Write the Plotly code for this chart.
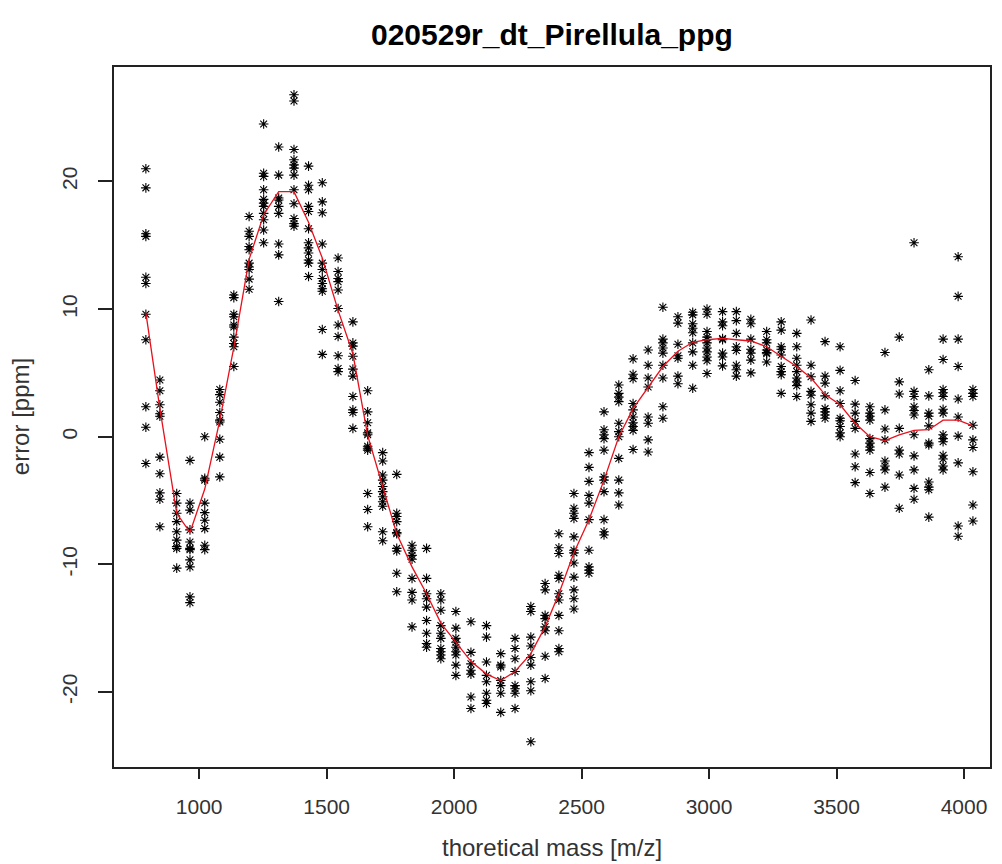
import plotly.graph_objects as go

# ---- data ----
column_mass = [791, 846, 912, 964, 1022, 1081, 1136, 1196, 1253, 1312, 1372, 1429, 1483, 1545,
               1603, 1661, 1720, 1775, 1835, 1892, 1948, 2007, 2066, 2127, 2183, 2239, 2301,
               2357, 2411, 2470, 2529, 2588, 2646, 2702, 2761, 2819, 2878, 2936, 2992, 3053,
               3107, 3164, 3226, 3283, 3344, 3400, 3455, 3514, 3573, 3631, 3690, 3746, 3804,
               3862, 3918, 3977, 4035]

column_errors = [
    [21.0, 19.5, 15.9, 15.7, 12.5, 12.0, 9.6, 7.6, 2.35, 0.74, -2.1],
    [4.45, 3.6, 2.5, 1.8, 1.6, -1.6, -2.9, -4.4, -4.9, -7.05],
    [-4.45, -5.2, -6.0, -6.65, -7.45, -8.1, -8.6, -8.75, -10.3],
    [-1.85, -5.2, -5.75, -7.3, -8.25, -8.75, -8.85, -9.65, -10.2, -12.55, -13.0],
    [0.0, -3.25, -3.4, -5.2, -5.95, -6.55, -7.2, -8.5, -8.85],
    [3.7, 3.3, 2.7, 1.9, 1.3, 1.15, -0.2, -1.6, -3.15],
    [11.1, 10.9, 9.6, 9.4, 8.75, 8.6, 7.8, 7.3, 7.05, 5.5],
    [17.25, 16.1, 15.7, 14.9, 14.65, 13.6, 13.3, 13.1, 12.35, 11.55],
    [24.5, 20.65, 20.4, 19.35, 18.6, 18.3, 18.05, 17.5, 17.0, 16.2, 15.2],
    [22.7, 20.5, 18.7, 18.55, 18.05, 17.5, 15.1, 14.25, 10.6],
    [26.8, 26.3, 22.5, 21.7, 21.3, 21.05, 20.5, 19.35, 18.25, 17.1, 16.7, 16.5],
    [21.2, 19.7, 19.35, 18.05, 17.65, 16.3, 15.2, 14.8, 14.4, 13.85, 13.6, 12.55],
    [19.9, 18.4, 17.55, 15.1, 13.6, 13.1, 12.4, 12.0, 11.6, 11.4, 8.4, 6.45],
    [14.0, 12.95, 12.4, 12.15, 11.5, 10.05, 8.75, 7.85, 6.35, 5.35, 5.1],
    [9.0, 7.35, 7.1, 6.3, 5.3, 4.75, 3.15, 2.1, 1.9, 0.65],
    [3.6, 1.95, 1.1, 0.3, 0.15, -0.75, -0.9, -1.05, -4.45, -5.7, -7.05],
    [-1.25, -1.9, -3.0, -3.4, -3.9, -4.3, -4.7, -5.1, -5.45, -7.45, -8.15],
    [-2.95, -6.0, -6.25, -6.65, -7.5, -7.6, -8.75, -8.95, -10.7, -12.15],
    [-8.5, -8.9, -9.3, -9.6, -11.1, -12.2, -12.8, -14.9],
    [-8.75, -11.1, -12.3, -12.7, -13.35, -14.4, -15.4, -16.2, -16.5],
    [-12.3, -12.8, -13.6, -14.8, -15.4, -15.8, -16.6, -16.85, -17.1, -17.4],
    [-13.7, -15.0, -15.8, -16.1, -16.5, -16.85, -17.1, -17.9, -18.7],
    [-14.5, -16.9, -17.8, -18.3, -18.6, -20.4, -21.3],
    [-14.8, -15.7, -17.65, -18.7, -19.2, -20.1, -20.65, -20.9],
    [-17.0, -17.9, -18.05, -19.1, -19.5, -20.1, -21.6],
    [-15.8, -16.6, -17.4, -18.4, -19.5, -19.75, -20.1, -21.3],
    [-13.3, -13.7, -15.7, -16.4, -17.3, -17.9, -19.2, -19.9, -23.9],
    [-11.5, -12.0, -14.0, -14.25, -14.9, -15.2, -17.2, -18.95],
    [-7.6, -8.7, -9.15, -10.85, -11.1, -12.3, -12.8, -14.0, -15.2, -16.6, -16.85],
    [-4.45, -5.6, -6.0, -6.4, -7.85, -8.9, -9.1, -9.9, -11.0, -12.0, -12.7, -13.5],
    [-1.25, -2.4, -3.5, -4.6, -5.2, -6.5, -8.9, -10.2, -10.45, -10.7],
    [1.95, 0.55, 0.15, -0.15, -1.05, -3.15, -3.4, -4.3, -6.5, -7.45, -7.7],
    [4.05, 3.4, 3.1, 2.75, 1.05, 0.4, 0.0, -1.7, -3.4, -4.4, -5.35],
    [6.1, 4.9, 4.55, 2.6, 2.1, 1.55, 1.1, 0.8, 0.5, -1.0],
    [6.8, 5.6, 4.6, 3.9, 1.55, 1.05, -0.25, -1.2],
    [10.15, 7.65, 7.35, 6.95, 6.55, 5.6, 4.6, 2.35, 1.45],
    [9.4, 8.9, 7.25, 6.35, 6.15, 4.75, 4.15],
    [9.75, 9.55, 8.85, 8.5, 8.15, 7.35, 6.65, 5.6, 3.8],
    [10.0, 9.6, 8.25, 7.8, 7.6, 7.35, 6.95, 6.65, 6.25, 5.95, 4.95],
    [9.8, 9.0, 8.7, 7.7, 7.6, 6.55, 6.25, 5.55],
    [9.8, 9.1, 8.1, 7.05, 6.75, 5.6, 5.25, 4.75],
    [9.2, 8.85, 7.65, 6.85, 6.55, 6.0, 5.0],
    [8.25, 7.6, 7.35, 6.8, 6.6, 6.5, 5.85],
    [9.0, 8.35, 7.05, 6.85, 6.4, 5.5, 5.1, 4.85, 3.4],
    [8.1, 7.05, 6.15, 5.6, 5.1, 4.6, 4.3, 4.0, 3.15],
    [9.15, 5.6, 4.7, 3.55, 3.25, 2.5, 1.85, 1.2],
    [7.45, 4.75, 4.2, 3.2, 2.2, 1.95, 1.7, 1.45],
    [7.05, 5.2, 3.6, 2.6, 1.45, 1.25, 0.8, 0.3, 0.0],
    [4.4, 2.55, 1.85, 1.2, 0.65, -1.35, -2.35, -3.6],
    [2.35, 1.85, 1.6, 1.3, -0.15, -0.5, -0.8, -1.05, -2.8, -4.45],
    [6.6, 2.1, 0.6, -0.25, -1.9, -2.3, -2.6, -3.95],
    [7.8, 4.3, 3.35, 0.65, -1.05, -1.35, -3.0, -5.6],
    [15.2, 3.55, 3.15, 2.35, 2.05, 1.7, 0.15, -1.5, -2.6, -4.05, -4.9],
    [5.25, 3.2, 1.85, 1.6, 0.85, -0.5, -0.65, -3.55, -3.95, -4.15, -6.3],
    [7.65, 6.05, 3.7, 3.45, 3.15, 2.15, 1.85, 0.15, -0.15, -0.4, -1.45, -1.75, -2.3, -2.6],
    [14.1, 11.0, 7.65, 5.5, 2.95, 1.55, 0.05, -2.05, -7.0, -7.8],
    [3.7, 3.4, 3.15, 0.9, -0.25, -0.85, -2.75, -5.35, -6.6],
]

fit_error = [9.7, 2.2, -6.0, -7.5, -4.1, 1.3, 7.0, 13.9, 17.4, 19.2, 19.2, 16.8, 14.0, 9.9,
             6.5, 0.1, -3.9, -7.6, -10.2, -12.3, -14.6, -16.1, -17.6, -18.6, -19.1, -18.4,
             -17.0, -14.9, -12.3, -9.1, -6.5, -3.4, 0.0, 2.2, 3.9, 5.5, 6.7, 7.4, 7.6, 7.7,
             7.6, 7.5, 7.05, 6.3, 5.5, 4.6, 3.3, 2.5, 1.05, 0.0, -0.3, 0.15, 0.5, 0.55, 1.3,
             1.3, 0.85]

x_ticks = [1000, 1500, 2000, 2500, 3000, 3500, 4000]
y_ticks = [-20, -10, 0, 10, 20]

title_text = "020529r_dt_Pirellula_ppg"
x_label = "thoretical mass [m/z]"
y_label = "error [ppm]"

# ---- build ----
pt_x, pt_y = [], []
for m, errs in zip(column_mass, column_errors):
    for e in errs:
        pt_x.append(m)
        pt_y.append(e)

FONT = "Liberation Sans, Arial, sans-serif"

fig = go.Figure()
fig.add_trace(go.Scatter(
    x=pt_x, y=pt_y, mode="markers",
    marker=dict(symbol="asterisk-open", size=8, color="black",
                line=dict(color="black", width=1.1)),
    hoverinfo="x+y", showlegend=False))
fig.add_trace(go.Scatter(
    x=column_mass, y=fit_error, mode="lines",
    line=dict(color="#e8101c", width=1.3), showlegend=False))

L, R, T, B = 114, 10, 67, 97
W, H = 1002, 864
PW, PH = W - L - R, H - T - B

fig.update_layout(
    width=W, height=H, margin=dict(l=L, r=R, t=T, b=B),
    paper_bgcolor="white", plot_bgcolor="white",
    font=dict(family=FONT, color="#222222"),
    showlegend=False,
    annotations=[
        dict(text="<b>" + title_text + "</b>", xref="paper", yref="paper",
             x=0.5, y=(H - B - 35) / PH, xanchor="center", yanchor="middle",
             showarrow=False, font=dict(size=30, color="black", family=FONT)),
        dict(text=x_label, xref="paper", yref="paper",
             x=0.5, y=(H - B - 847) / PH, xanchor="center", yanchor="middle",
             showarrow=False, font=dict(size=24, color="#333333", family=FONT)),
        dict(text=y_label, xref="paper", yref="paper",
             x=(20 - L) / PW, y=0.5, xanchor="center", yanchor="middle",
             showarrow=False, textangle=-90,
             font=dict(size=24, color="#333333", family=FONT)),
    ],
)
fig.update_xaxes(
    range=[666, 4102], tickvals=x_ticks, ticktext=[str(v) for v in x_ticks],
    showgrid=False, zeroline=False, showline=True, mirror=True,
    linecolor="#222222", linewidth=1.5, ticks="outside", ticklen=10, tickwidth=1.5,
    tickcolor="#222222", tickfont=dict(size=21, color="#333333", family=FONT),
    ticklabelstandoff=10)
fig.update_yaxes(
    range=[-25.88, 28.97], tickvals=y_ticks, ticktext=[str(v) for v in y_ticks],
    showgrid=False, zeroline=False, showline=True, mirror=True,
    linecolor="#222222", linewidth=1.5, ticks="outside", ticklen=14, tickwidth=1.5,
    tickcolor="#222222", tickangle=-90, tickfont=dict(size=21, color="#333333", family=FONT),
    ticklabelstandoff=13)

fig.write_html("out.html")
